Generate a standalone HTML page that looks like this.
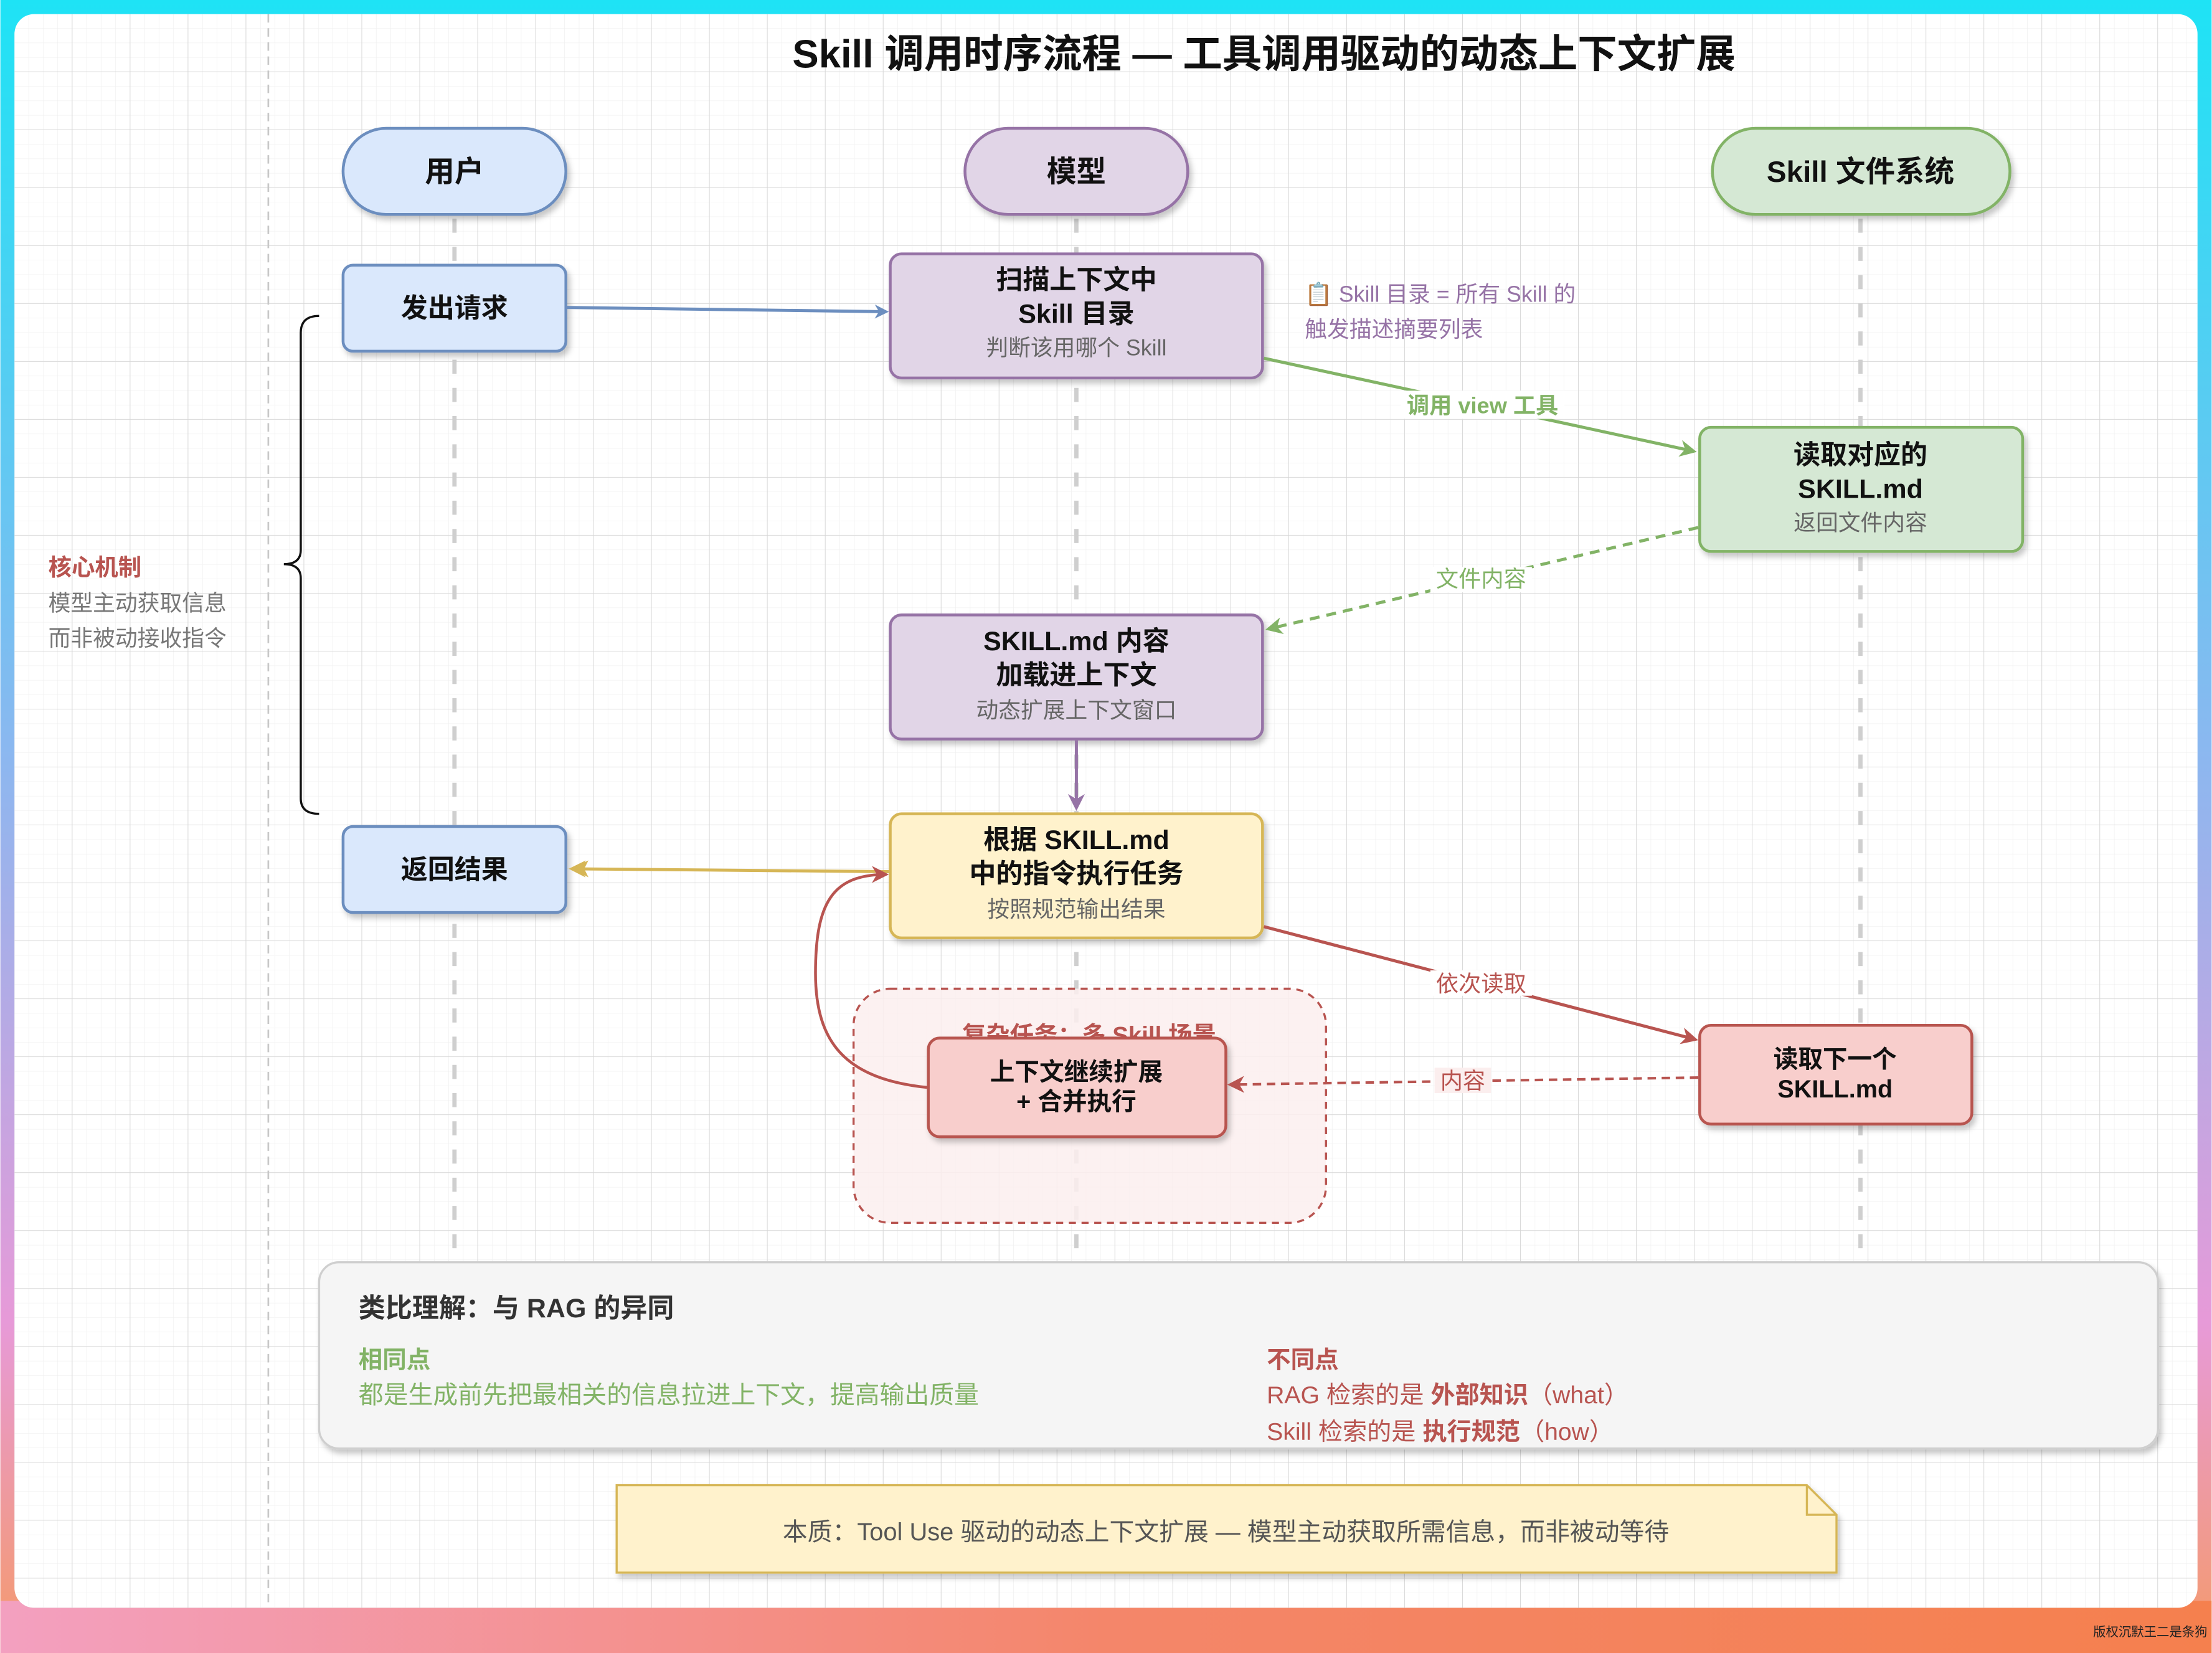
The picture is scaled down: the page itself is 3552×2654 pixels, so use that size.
<!DOCTYPE html>
<html><head><meta charset="utf-8"><style>
html,body{margin:0;padding:0;width:3552px;height:2654px;overflow:hidden}
svg{display:block}
text{font-family:"Liberation Sans","Noto Sans CJK SC",sans-serif}
</style></head><body>
<svg width="3552" height="2654" viewBox="0 0 1568 1172" xmlns="http://www.w3.org/2000/svg">
<defs>
<linearGradient id="bgH" x1="0" y1="0" x2="0" y2="1">
<stop offset="0" stop-color="#1ee3f5"/><stop offset="0.45" stop-color="#8ab8f0"/><stop offset="0.8" stop-color="#e79ad8"/><stop offset="1" stop-color="#f59a6a"/>
</linearGradient>
<linearGradient id="bot" x1="0" y1="0" x2="1" y2="0">
<stop offset="0" stop-color="#f3a0c0"/><stop offset="0.5" stop-color="#f4866a"/><stop offset="1" stop-color="#f5804e"/>
</linearGradient>
<pattern id="minor" width="10.27" height="10.27" patternUnits="userSpaceOnUse" x="10" y="10">
<path d="M10.27 0V10.27H0" fill="none" stroke="#efefef" stroke-width="0.6"/>
</pattern>
<pattern id="major" width="41.08" height="41.08" patternUnits="userSpaceOnUse" x="10" y="10">
<path d="M41.08 0V41.08H0" fill="none" stroke="#d6d6d6" stroke-width="0.8"/>
</pattern>
<filter id="sh" x="-10%" y="-10%" width="130%" height="140%"><feDropShadow dx="2" dy="3" stdDeviation="2" flood-opacity="0.22"/></filter>
<marker id="aB" markerWidth="10" markerHeight="10" refX="8" refY="5" orient="auto" markerUnits="userSpaceOnUse"><path d="M0 0L10 5L0 10L3 5z" fill="#6c8ebf"/></marker>
<marker id="aG" markerWidth="12" markerHeight="12" refX="10" refY="6" orient="auto" markerUnits="userSpaceOnUse"><path d="M0 0L12 6L0 12L3.5 6z" fill="#82b366"/></marker>
<marker id="aP" markerWidth="12" markerHeight="12" refX="10" refY="6" orient="auto" markerUnits="userSpaceOnUse"><path d="M0 0L12 6L0 12L3.5 6z" fill="#9673a6"/></marker>
<marker id="aR" markerWidth="12" markerHeight="12" refX="10" refY="6" orient="auto" markerUnits="userSpaceOnUse"><path d="M0 0L12 6L0 12L3.5 6z" fill="#b85450"/></marker>
<marker id="aY" markerWidth="12" markerHeight="12" refX="10" refY="6" orient="auto" markerUnits="userSpaceOnUse"><path d="M0 0L12 6L0 12L3.5 6z" fill="#d6b656"/></marker>
</defs>
<rect width="1568" height="1172" fill="url(#bgH)"/>
<rect x="0" y="1135" width="1568" height="37" fill="url(#bot)"/>
<rect x="10" y="10" width="1548" height="1130" rx="14" fill="#fff"/>
<rect x="10" y="10" width="1548" height="1130" rx="14" fill="url(#minor)"/>
<rect x="10" y="10" width="1548" height="1130" rx="14" fill="url(#major)"/>
<text x="1565" y="1160" font-size="9" fill="#222" text-anchor="end">版权沉默王二是条狗</text>

<text x="896" y="48" font-size="28" font-weight="bold" text-anchor="middle" fill="#111">Skill 调用时序流程 — 工具调用驱动的动态上下文扩展</text>

<line x1="190" y1="10" x2="190" y2="1140" stroke="#c8c8c8" stroke-width="1.2" stroke-dasharray="6 4"/>
<g stroke="#cfcfcf" stroke-width="3" stroke-dasharray="10 10">
<line x1="322" y1="155" x2="322" y2="892"/>
<line x1="763" y1="155" x2="763" y2="892"/>
<line x1="1319" y1="155" x2="1319" y2="892"/>
</g>

<g filter="url(#sh)">
<rect x="243" y="91" width="158" height="61" rx="30.5" fill="#dae8fc" stroke="#6c8ebf" stroke-width="2"/>
<rect x="684" y="91" width="158" height="61" rx="30.5" fill="#e1d5e7" stroke="#9673a6" stroke-width="2"/>
<rect x="1214" y="91" width="211" height="61" rx="30.5" fill="#d5e8d4" stroke="#82b366" stroke-width="2"/>
</g>
<g font-weight="bold" font-size="21" text-anchor="middle" fill="#111">
<text x="322" y="129">用户</text>
<text x="763" y="129">模型</text>
<text x="1319" y="129">Skill 文件系统</text>
</g>

<path d="M226 224 Q213 224 213 236 L213 390 Q213 400 201 400 Q213 400 213 410 L213 566 Q213 577 226 577" fill="none" stroke="#111" stroke-width="1.5"/>
<text x="34" y="408" font-size="16.5" font-weight="bold" fill="#b85450">核心机制</text>
<text x="34" y="433" font-size="15.8" fill="#777">模型主动获取信息</text>
<text x="34" y="458" font-size="15.8" fill="#777">而非被动接收指令</text>

<rect x="605" y="701" width="335" height="166" rx="26" fill="#fbeeee" fill-opacity="0.85" stroke="#b85450" stroke-width="1.5" stroke-dasharray="5 4"/>
<text x="772" y="740" font-size="17" font-weight="bold" fill="#b85450" text-anchor="middle">复杂任务：多 Skill 场景</text>

<g filter="url(#sh)">
<rect x="243" y="188" width="158" height="61" rx="7" fill="#dae8fc" stroke="#6c8ebf" stroke-width="2"/>
<rect x="631" y="180" width="264" height="88" rx="8" fill="#e1d5e7" stroke="#9673a6" stroke-width="2"/>
<rect x="1205" y="303" width="229" height="88" rx="8" fill="#d5e8d4" stroke="#82b366" stroke-width="2"/>
<rect x="631" y="436" width="264" height="88" rx="8" fill="#e1d5e7" stroke="#9673a6" stroke-width="2"/>
<rect x="243" y="586" width="158" height="61" rx="7" fill="#dae8fc" stroke="#6c8ebf" stroke-width="2"/>
<rect x="631" y="577" width="264" height="88" rx="8" fill="#fff2cc" stroke="#d6b656" stroke-width="2"/>
<rect x="658" y="736" width="211" height="70" rx="8" fill="#f8cecc" stroke="#b85450" stroke-width="2"/>
<rect x="1205" y="727" width="193" height="70" rx="8" fill="#f8cecc" stroke="#b85450" stroke-width="2"/>
</g>
<g font-weight="bold" font-size="19" text-anchor="middle" fill="#111">
<text x="322" y="225">发出请求</text>
<text x="763" y="205">扫描上下文中</text>
<text x="763" y="229">Skill 目录</text>
<text x="1319" y="329">读取对应的</text>
<text x="1319" y="353">SKILL.md</text>
<text x="763" y="461">SKILL.md 内容</text>
<text x="763" y="485">加载进上下文</text>
<text x="322" y="623">返回结果</text>
<text x="763" y="602">根据 SKILL.md</text>
<text x="763" y="626">中的指令执行任务</text>
<text x="763" y="766" font-size="17.5">上下文继续扩展</text>
<text x="763" y="787" font-size="17.5">+ 合并执行</text>
<text x="1301" y="757" font-size="17.5">读取下一个</text>
<text x="1301" y="778" font-size="17.5">SKILL.md</text>
</g>
<g font-size="15.8" text-anchor="middle" fill="#666">
<text x="763" y="252">判断该用哪个 Skill</text>
<text x="1319" y="376">返回文件内容</text>
<text x="763" y="509">动态扩展上下文窗口</text>
<text x="763" y="650">按照规范输出结果</text>
</g>
<text x="925" y="214" font-size="15.8" fill="#9673a6">📋 Skill 目录 = 所有 Skill 的</text>
<text x="925" y="239" font-size="15.8" fill="#9673a6">触发描述摘要列表</text>

<line x1="402" y1="218" x2="628" y2="221" stroke="#6c8ebf" stroke-width="2.2" marker-end="url(#aB)"/>
<line x1="896" y1="254" x2="1201" y2="320" stroke="#82b366" stroke-width="2.2" marker-end="url(#aG)"/>
<rect x="993" y="277" width="116" height="20" fill="#fff"/>
<text x="1051" y="293" font-size="16" font-weight="bold" fill="#82b366" text-anchor="middle">调用 view 工具</text>
<line x1="1204" y1="374" x2="899" y2="446" stroke="#82b366" stroke-width="2.2" stroke-dasharray="7 5" marker-end="url(#aG)"/>
<rect x="1014" y="402" width="72" height="18" fill="#fff"/>
<text x="1050" y="416" font-size="16" fill="#82b366" text-anchor="middle">文件内容</text>
<line x1="763" y1="525" x2="763" y2="573" stroke="#9673a6" stroke-width="2.2" marker-end="url(#aP)"/>
<line x1="630" y1="618" x2="405" y2="616" stroke="#d6b656" stroke-width="2.2" marker-end="url(#aY)"/>
<path d="M405 616 L417 610 L414 616 L417 622z" fill="#d6b656"/>
<line x1="896" y1="657" x2="1202" y2="737" stroke="#b85450" stroke-width="2.2" marker-end="url(#aR)"/>
<rect x="1014" y="688" width="72" height="18" fill="#fff"/>
<text x="1050" y="703" font-size="16" fill="#b85450" text-anchor="middle">依次读取</text>
<line x1="1204" y1="764" x2="872" y2="769" stroke="#b85450" stroke-width="1.8" stroke-dasharray="6 4" marker-end="url(#aR)"/>
<rect x="1017" y="757" width="40" height="18" fill="#fbeeee"/>
<text x="1037" y="772" font-size="16" fill="#b85450" text-anchor="middle">内容</text>
<path d="M657 771 C600 765 578 740 578 690 C578 640 590 620 628 620" fill="none" stroke="#b85450" stroke-width="2" marker-end="url(#aR)"/>

<rect x="226" y="895" width="1304" height="132" rx="14" fill="#f5f5f5" stroke="#cfcfcf" stroke-width="1.5" filter="url(#sh)"/>
<text x="254" y="934" font-size="19" font-weight="bold" fill="#333">类比理解：与 RAG 的异同</text>
<text x="254" y="970" font-size="17" font-weight="bold" fill="#82b366">相同点</text>
<text x="254" y="995" font-size="17.6" fill="#82b366">都是生成前先把最相关的信息拉进上下文，提高输出质量</text>
<text x="898" y="970" font-size="17" font-weight="bold" fill="#b85450">不同点</text>
<text x="898" y="995" font-size="17.3" fill="#b85450">RAG 检索的是 <tspan font-weight="bold">外部知识</tspan>（what）</text>
<text x="898" y="1021" font-size="17.3" fill="#b85450">Skill 检索的是 <tspan font-weight="bold">执行规范</tspan>（how）</text>

<path d="M437 1053 H1281 L1302 1074 V1115 H437 Z" fill="#fff2cc" stroke="#d6b656" stroke-width="1.5" filter="url(#sh)"/>
<path d="M1281 1053 V1074 H1302" fill="none" stroke="#d6b656" stroke-width="1.5"/>
<text x="869" y="1092" font-size="17.6" fill="#555" text-anchor="middle">本质：Tool Use 驱动的动态上下文扩展 — 模型主动获取所需信息，而非被动等待</text>
</svg>
</body></html>
